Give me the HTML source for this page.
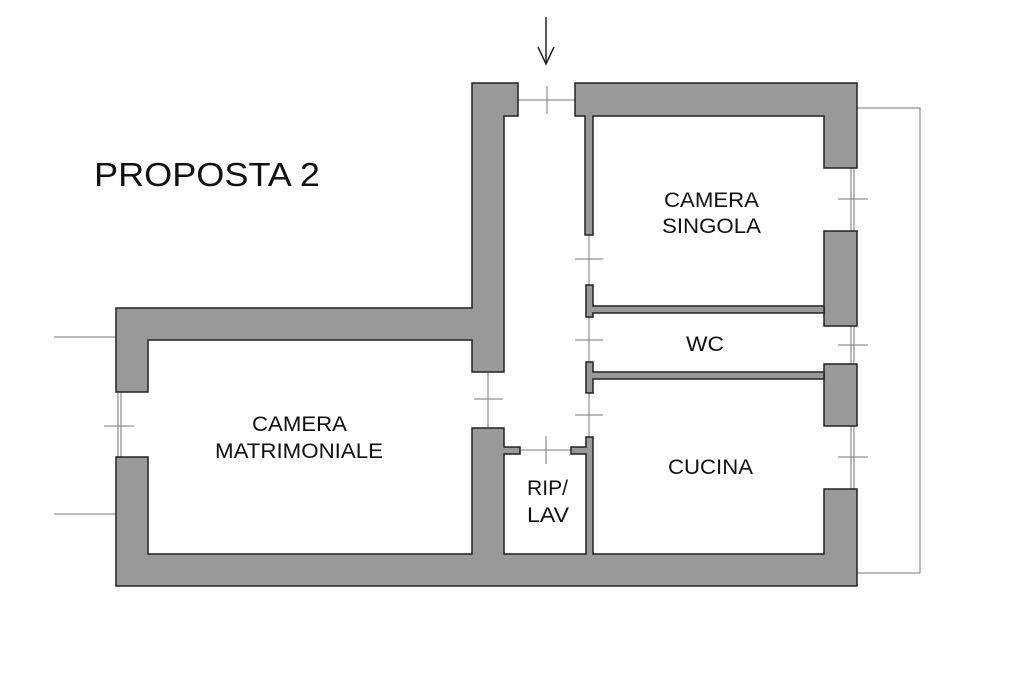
<!DOCTYPE html>
<html><head><meta charset="utf-8"><style>
html,body{margin:0;padding:0;background:#fff;}
svg{display:block;}
text{font-family:"Liberation Sans",sans-serif;fill:#111;}
</style></head><body>
<svg width="1024" height="682" viewBox="0 0 1024 682" xmlns="http://www.w3.org/2000/svg">
<rect width="1024" height="682" fill="#fff"/>
<g stroke="#777" stroke-width="1" fill="none">
<polyline points="857,108 920,108 920,573 857,573"/>
<line x1="54" y1="337" x2="116" y2="337"/>
<line x1="54" y1="514" x2="116" y2="514"/>
<line x1="518" y1="100" x2="575" y2="100"/>
<line x1="547" y1="86" x2="547" y2="114"/>
<line x1="589" y1="235" x2="589" y2="285"/>
<line x1="575" y1="259" x2="603" y2="259"/>
<line x1="589" y1="317" x2="589" y2="362"/>
<line x1="575" y1="340" x2="603" y2="340"/>
<line x1="589" y1="393" x2="589" y2="437"/>
<line x1="575" y1="415" x2="603" y2="415"/>
<line x1="488" y1="372" x2="488" y2="428"/>
<line x1="474" y1="399" x2="503" y2="399"/>
<line x1="520" y1="450" x2="571" y2="450"/>
<line x1="546" y1="436" x2="546" y2="464"/>
<line x1="118" y1="392" x2="118" y2="457"/>
<line x1="121" y1="392" x2="121" y2="457"/>
<line x1="104" y1="426" x2="134" y2="426"/>
<line x1="851" y1="168" x2="851" y2="231"/>
<line x1="854" y1="168" x2="854" y2="231"/>
<line x1="838" y1="199" x2="868" y2="199"/>
<line x1="851" y1="326" x2="851" y2="364"/>
<line x1="854" y1="326" x2="854" y2="364"/>
<line x1="838" y1="345" x2="868" y2="345"/>
<line x1="851" y1="426" x2="851" y2="489"/>
<line x1="854" y1="426" x2="854" y2="489"/>
<line x1="838" y1="457" x2="868" y2="457"/>
</g>
<g stroke="#222" stroke-width="1.5" fill="none">
<line x1="546" y1="17" x2="546" y2="64"/>
<polyline points="538,47 546,64 554,47"/>
</g>
<g fill="#999" stroke="#222" stroke-width="1.5" stroke-linejoin="miter">
<polygon points="116,308 472,308 472,83 518,83 518,116 504,116 504,372 472,372 472,340 148,340 148,392 116,392"/>
<polygon points="575,83 857,83 857,168 824,168 824,116 593,116 593,235 585,235 585,116 575,116"/>
<polygon points="116,457 148,457 148,554 472,554 472,428 504,428 504,447 520,447 520,454 504,454 504,554 586,554 586,454 571,454 571,447 586,447 586,437 593,437 593,554 824,554 824,489 857,489 857,586 116,586"/>
<rect x="824" y="231" width="33" height="95"/>
<rect x="824" y="364" width="33" height="62"/>
<polygon points="586,285 593,285 593,306 824,306 824,313 593,313 593,317 586,317"/>
<polygon points="586,362 593,362 593,372 824,372 824,379 593,379 593,393 586,393"/>
</g>
<text x="94" y="186" font-size="33" textLength="226" lengthAdjust="spacingAndGlyphs">PROPOSTA 2</text>
<g font-size="21">
<text x="252" y="431" textLength="95" lengthAdjust="spacingAndGlyphs">CAMERA</text>
<text x="215" y="458" textLength="168" lengthAdjust="spacingAndGlyphs">MATRIMONIALE</text>
<text x="664" y="207" textLength="95" lengthAdjust="spacingAndGlyphs">CAMERA</text>
<text x="662" y="233" textLength="99" lengthAdjust="spacingAndGlyphs">SINGOLA</text>
<text x="686" y="351" textLength="38" lengthAdjust="spacingAndGlyphs">WC</text>
<text x="668" y="474" textLength="85" lengthAdjust="spacingAndGlyphs">CUCINA</text>
<text x="527" y="495" textLength="41" lengthAdjust="spacingAndGlyphs">RIP/</text>
<text x="527" y="522" textLength="42" lengthAdjust="spacingAndGlyphs">LAV</text>
</g>
</svg>
</body></html>
